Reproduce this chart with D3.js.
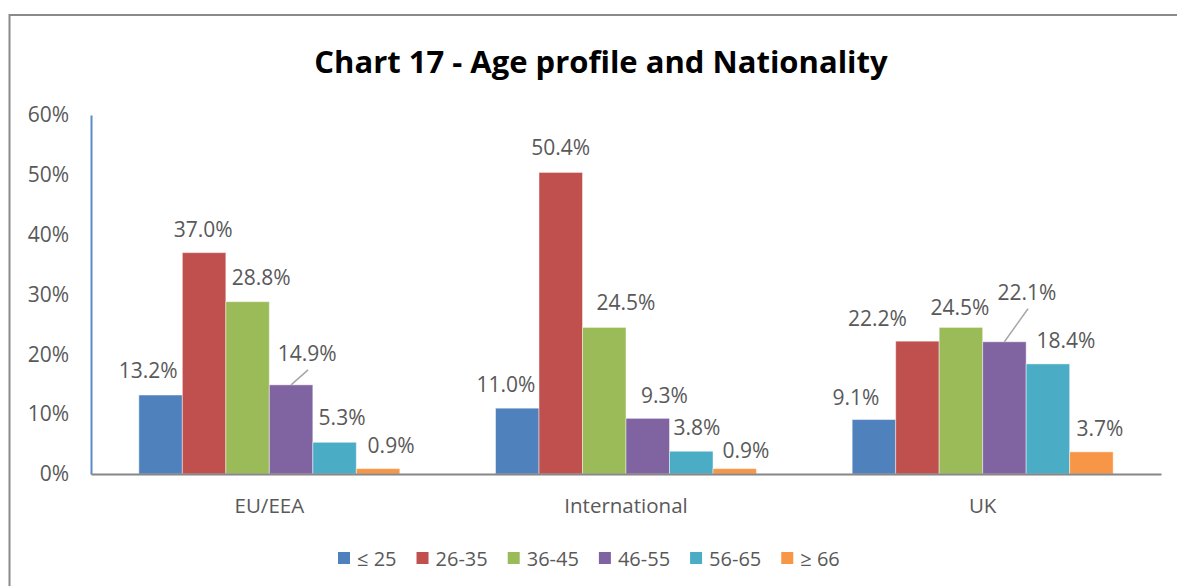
<!DOCTYPE html>
<html>
<head>
<meta charset="utf-8">
<script src="https://cdn.jsdelivr.net/npm/d3@7"></script>
<style>
  html, body { margin: 0; padding: 0; background: #fff; }
  svg { display: block; }
  text { font-family: "Open Sans", "Noto Sans", sans-serif; }
</style>
</head>
<body>
<svg id="chart" width="1177" height="586"></svg>
<script>
// ---- data ----
const categories = ["EU/EEA", "International", "UK"];
const seriesNames = ["≤ 25", "26-35", "36-45", "46-55", "56-65", "≥ 66"];
const age25 = [13.2, 11.0, 9.1];
const age26to35 = [37.0, 50.4, 22.2];
const age36to45 = [28.8, 24.5, 24.5];
const age46to55 = [14.9, 9.3, 22.1];
const age56to65 = [5.3, 3.8, 18.4];
const age66 = [0.9, 0.9, 3.7];
const yTicks = [0, 10, 20, 30, 40, 50, 60];
const titleText = "Chart 17 - Age profile and Nationality";

// ---- style / layout ----
const colors = ["#4F81BD", "#C0504D", "#9BBB59", "#8064A2", "#4BACC6", "#F79646"];
// label offsets (dx from bar centre, dy of label middle above bar top), per category then series
const labelOffsets = [
  [[-12.5, -25], [-1, -24], [13.5, -24.5], [16, -32], [7.5, -25], [13, -23.6]],
  [[-11.3, -24], [0, -25], [21.7, -25], [16.7, -23], [5.7, -24.5], [11.2, -18.6]],
  [[-18, -23], [-40, -23], [-1, -20], [22.6, -50], [18, -24], [8.6, -23.5]]
];

const seriesValues = [age25, age26to35, age36to45, age46to55, age56to65, age66];
const rows = [];
categories.forEach((c, ci) => {
  seriesNames.forEach((s, si) => {
    rows.push({cat: c, ci, series: s, si, value: seriesValues[si][ci]});
  });
});

const svg = d3.select("#chart");

// outer frame
svg.append("rect")
  .attr("x", 9.5).attr("y", 15).attr("width", 1200).attr("height", 620)
  .attr("fill", "none").attr("stroke", "#8a8a8a").attr("stroke-width", 2);

// title
const title = svg.append("text")
  .attr("x", 601).attr("y", 61)
  .attr("text-anchor", "middle").attr("dominant-baseline", "central")
  .attr("font-size", 31).attr("font-weight", "bold").attr("fill", "#000")
  .text(titleText);
const tw = title.node().getComputedTextLength();
if (Math.abs(tw - 574) > 4) title.attr("textLength", 574).attr("lengthAdjust", "spacingAndGlyphs");

const plotLeft = 91, plotRight = 1161, plotTop = 115, plotBottom = 474;

const x0 = d3.scaleBand().domain(categories).range([plotLeft, plotRight]).paddingInner(0).paddingOuter(0);
const x1 = d3.scaleBand().domain(seriesNames).range([0, x0.bandwidth()]).paddingInner(0).paddingOuter(1.1);
const y = d3.scaleLinear().domain([0, 60]).range([plotBottom, plotTop]);

// y axis
const yAxis = d3.axisLeft(y).tickValues(yTicks).tickSize(0).tickPadding(22).tickFormat(d => d + "%");
const yg = svg.append("g").attr("transform", `translate(${plotLeft},0)`).call(yAxis);
yg.select(".domain").attr("stroke", "#5B8BC9").attr("stroke-width", 2);
yg.selectAll("text").attr("font-size", 21).attr("fill", "#595959")
  .attr("font-family", "'Open Sans', sans-serif");

// bars
svg.append("g").selectAll("rect").data(rows).join("rect")
  .attr("x", d => x0(d.cat) + x1(d.series))
  .attr("y", d => y(d.value))
  .attr("width", x1.bandwidth())
  .attr("height", d => y(0) - y(d.value))
  .attr("fill", d => colors[d.si])
  .attr("stroke", "#ffffff").attr("stroke-opacity", 0.45).attr("stroke-width", 1);

// x axis
const xAxis = d3.axisBottom(x0).tickSize(0).tickPadding(24);
const xg = svg.append("g").attr("transform", `translate(0,${plotBottom})`).call(xAxis);
xg.select(".domain").attr("stroke", "#868686").attr("stroke-width", 2);
xg.selectAll("text").attr("font-size", 20.5).attr("fill", "#595959")
  .attr("font-family", "'Open Sans', sans-serif");

// leader lines
const labelPos = d => {
  const cx = x0(d.cat) + x1(d.series) + x1.bandwidth() / 2;
  const off = labelOffsets[d.ci][d.si];
  return {cx, lx: cx + off[0], ly: y(d.value) + off[1], barTop: y(d.value), lead: off[1] < -28};
};
svg.append("g").selectAll("line").data(rows.filter(d => labelPos(d).lead)).join("line")
  .attr("x1", d => labelPos(d).cx).attr("y1", d => labelPos(d).barTop)
  .attr("x2", d => labelPos(d).lx + 1).attr("y2", d => labelPos(d).ly + 17)
  .attr("stroke", "#A6A6A6").attr("stroke-width", 1.5);

// value labels
svg.append("g").selectAll("text").data(rows).join("text")
  .attr("x", d => labelPos(d).lx)
  .attr("y", d => labelPos(d).ly)
  .attr("text-anchor", "middle").attr("dominant-baseline", "central")
  .attr("font-size", 21).attr("fill", "#595959")
  .text(d => d.value.toFixed(1) + "%");

// legend
const legend = svg.append("g");
let lx = 338;
seriesNames.forEach((s, i) => {
  legend.append("rect").attr("x", lx).attr("y", 552).attr("width", 12).attr("height", 12).attr("fill", colors[i]);
  const t = legend.append("text").attr("x", lx + 19).attr("y", 558)
    .attr("dominant-baseline", "central").attr("font-size", 20).attr("fill", "#595959").text(s);
  lx += 19 + t.node().getComputedTextLength() + 20;
});
</script>
</body>
</html>
